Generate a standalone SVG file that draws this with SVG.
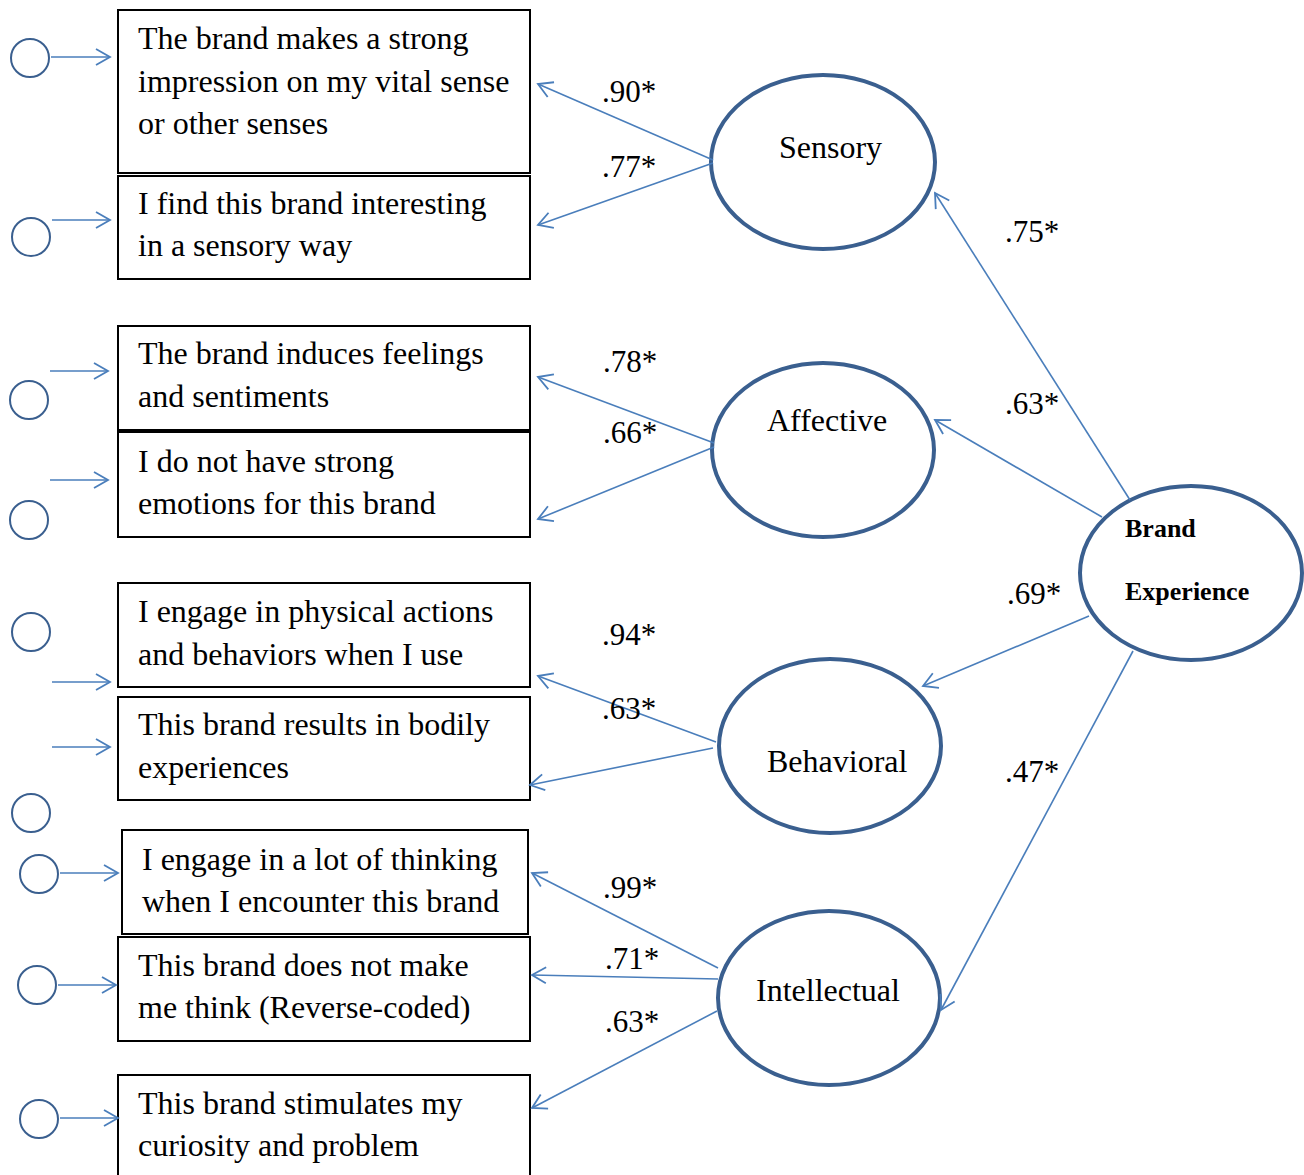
<svg xmlns="http://www.w3.org/2000/svg" width="1304" height="1175" viewBox="0 0 1304 1175">
<style>
.box{fill:#fff;stroke:#000;stroke-width:2}
.lat{fill:#fff;stroke:#3A5F8F;stroke-width:4}
.err{fill:#fff;stroke:#3A5F8F;stroke-width:2}
.ln{fill:none;stroke:#4A7EBB;stroke-width:1.6;marker-end:url(#ah)}
.t{font-family:"Liberation Serif","Times New Roman",serif;font-size:32px;fill:#000}
.c{font-family:"Liberation Serif","Times New Roman",serif;font-size:31px;fill:#000}
.b{font-family:"Liberation Serif","Times New Roman",serif;font-size:26px;font-weight:bold;fill:#000}
</style>
<defs>
<marker id="ah" viewBox="-16 -10 18 20" refX="0" refY="0" markerWidth="18" markerHeight="20" markerUnits="userSpaceOnUse" orient="auto">
<path d="M-14,-8 L0,0 L-14,8" fill="none" stroke="#4A7EBB" stroke-width="1.8"/>
</marker>
</defs>
<rect width="1304" height="1175" fill="#fff"/>

<g id="item1"><rect class="box" x="118" y="10" width="412" height="163"/>
<text class="t" x="138" y="49">The brand makes a strong</text>
<text class="t" x="138" y="92">impression on my vital sense</text>
<text class="t" x="138" y="134">or other senses</text></g>
<g id="item2"><rect class="box" x="118" y="176" width="412" height="103"/>
<text class="t" x="138" y="214">I find this brand interesting</text>
<text class="t" x="138" y="256">in a sensory way</text></g>
<g id="item3"><rect class="box" x="118" y="326" width="412" height="104"/>
<text class="t" x="138" y="364">The brand induces feelings</text>
<text class="t" x="138" y="407">and sentiments</text></g>
<g id="item4"><rect class="box" x="118" y="432" width="412" height="105"/>
<text class="t" x="138" y="472">I do not have strong</text>
<text class="t" x="138" y="514">emotions for this brand</text></g>
<g id="item5"><rect class="box" x="118" y="583" width="412" height="104"/>
<text class="t" x="138" y="622">I engage in physical actions</text>
<text class="t" x="138" y="665">and behaviors when I use</text></g>
<g id="item6"><rect class="box" x="118" y="697" width="412" height="103"/>
<text class="t" x="138" y="735">This brand results in bodily</text>
<text class="t" x="138" y="778">experiences</text></g>
<g id="item7"><rect class="box" x="122" y="830" width="406" height="104"/>
<text class="t" x="142" y="870">I engage in a lot of thinking</text>
<text class="t" x="142" y="912">when I encounter this brand</text></g>
<g id="item8"><rect class="box" x="118" y="937" width="412" height="104"/>
<text class="t" x="138" y="976">This brand does not make</text>
<text class="t" x="138" y="1018">me think (Reverse-coded)</text></g>
<g id="item9"><rect class="box" x="118" y="1075" width="412" height="130"/>
<text class="t" x="138" y="1114">This brand stimulates my</text>
<text class="t" x="138" y="1156">curiosity and problem</text></g>

<g id="errors">
<circle class="err" cx="30" cy="58" r="19"/>
<circle class="err" cx="31" cy="237" r="19"/>
<circle class="err" cx="29" cy="400" r="19"/>
<circle class="err" cx="29" cy="520" r="19"/>
<circle class="err" cx="31" cy="632" r="19"/>
<circle class="err" cx="31" cy="813" r="19"/>
<circle class="err" cx="39" cy="874" r="19"/>
<circle class="err" cx="37" cy="985" r="19"/>
<circle class="err" cx="39" cy="1119" r="19"/>
</g>

<g id="sensory"><ellipse class="lat" cx="823" cy="162" rx="112" ry="87"/><text class="t" x="779" y="158">Sensory</text></g>
<g id="affective"><ellipse class="lat" cx="823" cy="450" rx="111" ry="87"/><text class="t" x="767" y="431">Affective</text></g>
<g id="behavioral"><ellipse class="lat" cx="830" cy="746" rx="111" ry="87"/><text class="t" x="767" y="772">Behavioral</text></g>
<g id="intellectual"><ellipse class="lat" cx="829" cy="998" rx="111" ry="87"/><text class="t" x="756" y="1001">Intellectual</text></g>
<g id="brand-experience"><ellipse class="lat" cx="1191" cy="573" rx="111" ry="87"/><text class="b" x="1125" y="537">Brand</text><text class="b" x="1125" y="600">Experience</text></g>

<g id="connectors">
<line class="ln" x1="51" y1="57" x2="110" y2="57"/>
<line class="ln" x1="52" y1="220" x2="110" y2="220"/>
<line class="ln" x1="50" y1="371" x2="108" y2="371"/>
<line class="ln" x1="50" y1="480" x2="108" y2="480"/>
<line class="ln" x1="52" y1="682" x2="110" y2="682"/>
<line class="ln" x1="52" y1="747" x2="110" y2="747"/>
<line class="ln" x1="60" y1="873" x2="118" y2="873"/>
<line class="ln" x1="58" y1="985" x2="116" y2="985"/>
<line class="ln" x1="60" y1="1118" x2="118" y2="1118"/>

<line class="ln" x1="713" y1="160" x2="538" y2="84"/>
<line class="ln" x1="713" y1="163" x2="538" y2="225"/>
<line class="ln" x1="714" y1="443" x2="538" y2="377"/>
<line class="ln" x1="714" y1="447" x2="538" y2="519"/>
<line class="ln" x1="716" y1="742" x2="538" y2="676"/>
<line class="ln" x1="713" y1="748" x2="530" y2="785"/>
<line class="ln" x1="718" y1="968" x2="532" y2="873"/>
<line class="ln" x1="718" y1="979" x2="532" y2="975"/>
<line class="ln" x1="717" y1="1011" x2="532" y2="1108"/>

<line class="ln" x1="1130" y1="500" x2="935" y2="193"/>
<line class="ln" x1="1102" y1="517" x2="935" y2="420"/>
<line class="ln" x1="1089" y1="616" x2="923" y2="686"/>
<line class="ln" x1="1133" y1="651" x2="941" y2="1010"/>
</g>

<g id="labels">
<text class="c" x="602" y="102">.90*</text>
<text class="c" x="602" y="177">.77*</text>
<text class="c" x="603" y="372">.78*</text>
<text class="c" x="603" y="443">.66*</text>
<text class="c" x="602" y="645">.94*</text>
<text class="c" x="602" y="719">.63*</text>
<text class="c" x="603" y="898">.99*</text>
<text class="c" x="605" y="969">.71*</text>
<text class="c" x="605" y="1032">.63*</text>
<text class="c" x="1005" y="242">.75*</text>
<text class="c" x="1005" y="414">.63*</text>
<text class="c" x="1007" y="604">.69*</text>
<text class="c" x="1005" y="782">.47*</text>
</g>
</svg>
